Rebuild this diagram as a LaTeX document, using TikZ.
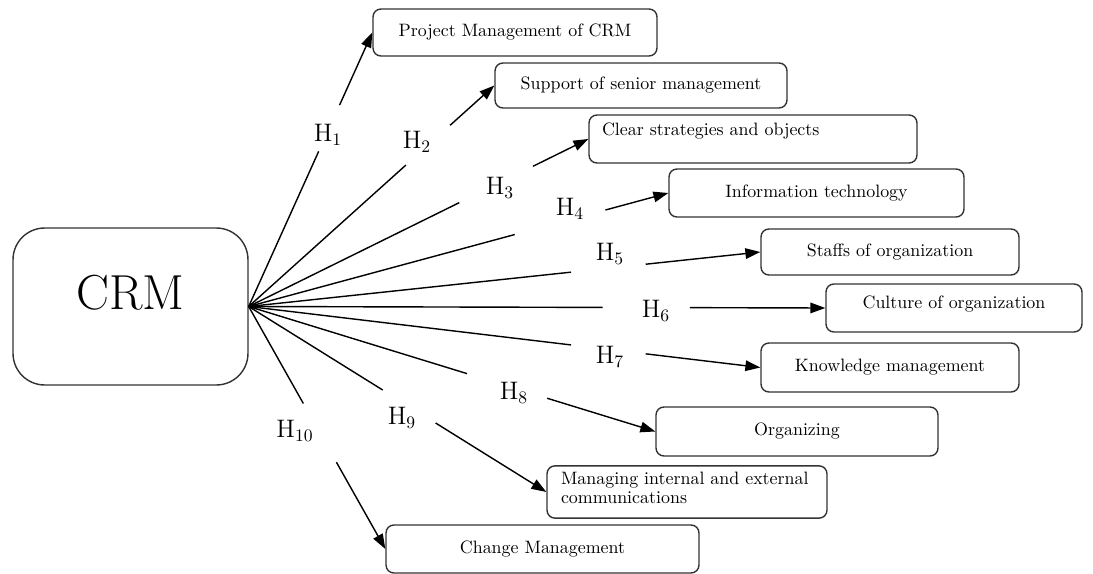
\documentclass[tikz,border=0pt]{standalone}
\usepackage{amsmath}
\usetikzlibrary{arrows.meta,calc}

\begin{document}
\begin{tikzpicture}[x=0.02cm,y=-0.02cm,
  box/.style={draw=black!80,line width=0.8pt,rounded corners=4.5pt,font=\fontsize{10.2}{11}\selectfont},
  hyp/.style={font=\fontsize{14}{16}\selectfont,inner sep=1pt},
  link/.style={line width=0.8pt,-{Triangle[length=8.5pt,width=6pt]}}]
\useasboundingbox (0,0) rectangle (1093,574);

\node[box,minimum width=4.70cm,minimum height=3.14cm,rounded corners=18pt,font=\fontsize{28}{30}\selectfont,text depth=16pt] (crm) at (130.5,306.5) {CRM};

\node[box,minimum width=5.68cm,minimum height=0.94cm] (b1) at (515,32.5) {Project Management of CRM};
\node[box,minimum width=5.84cm,minimum height=0.90cm] (b2) at (641,85.5) {Support of senior management};
\node[box,minimum height=0.96cm,align=left,text width=6.04cm,inner xsep=0.26cm,text depth=11pt] (b3) at (753,139) {Clear strategies and objects};
\node[box,minimum width=5.90cm,minimum height=0.96cm] (b4) at (816.5,193) {Information technology};
\node[box,minimum width=5.16cm,minimum height=0.92cm] (b5) at (890,252) {Staffs of organization};
\node[box,minimum width=5.12cm,minimum height=0.96cm,text depth=7pt] (b6) at (954,308) {Culture of organization};
\node[box,minimum width=5.16cm,minimum height=0.98cm] (b7) at (890,367.5) {Knowledge management};
\node[box,minimum width=5.64cm,minimum height=0.98cm] (b8) at (797,431.5) {Organizing};
\node[box,minimum height=1.00cm,align=left,text width=5.04cm,inner xsep=0.28cm,text depth=16pt] (b9) at (687,492) {Managing internal and external\\communications};
\node[box,minimum width=6.26cm,minimum height=0.96cm] (b10) at (542.5,549) {Change Management};

% hypotheses
\node[hyp] (h1) at (328,135) {$\mathrm{H}_{1}$};
\node[hyp] (h2) at (417,142) {$\mathrm{H}_{2}$};
\node[hyp] (h3) at (500,188) {$\mathrm{H}_{3}$};
\node[hyp] (h4) at (570,209) {$\mathrm{H}_{4}$};
\node[hyp] (h5) at (610,254) {$\mathrm{H}_{5}$};
\node[hyp] (h6) at (656,311) {$\mathrm{H}_{6}$};
\node[hyp] (h7) at (610,357) {$\mathrm{H}_{7}$};
\node[hyp] (h8) at (514,393) {$\mathrm{H}_{8}$};
\node[hyp] (h9) at (402,418) {$\mathrm{H}_{9}$};
\node[hyp] (h10) at (295,431) {$\mathrm{H}_{10}$};

\draw[line width=0.8pt] (crm.east) -- ($(crm.east)!0.566!(b1.west)$);
\draw[link] ($(crm.east)!0.735!(b1.west)$) -- (b1.west);
\draw[line width=0.8pt] (crm.east) -- ($(crm.east)!0.64!(b2.west)$);
\draw[link] ($(crm.east)!0.82!(b2.west)$) -- (b2.west);
\draw[line width=0.8pt] (crm.east) -- ($(crm.east)!0.62!(b3.west)$);
\draw[link] ($(crm.east)!0.837!(b3.west)$) -- (b3.west);
\draw[line width=0.8pt] (crm.east) -- ($(crm.east)!0.634!(b4.west)$);
\draw[link] ($(crm.east)!0.85!(b4.west)$) -- (b4.west);
\draw[line width=0.8pt] (crm.east) -- ($(crm.east)!0.63!(b5.west)$);
\draw[link] ($(crm.east)!0.776!(b5.west)$) -- (b5.west);
\draw[line width=0.8pt] (crm.east) -- ($(crm.east)!0.614!(b6.west)$);
\draw[link] ($(crm.east)!0.765!(b6.west)$) -- (b6.west);
\draw[line width=0.8pt] (crm.east) -- ($(crm.east)!0.63!(b7.west)$);
\draw[link] ($(crm.east)!0.776!(b7.west)$) -- (b7.west);
\draw[line width=0.8pt] (crm.east) -- ($(crm.east)!0.537!(b8.west)$);
\draw[link] ($(crm.east)!0.734!(b8.west)$) -- (b8.west);
\draw[line width=0.8pt] (crm.east) -- ($(crm.east)!0.45!(b9.west)$);
\draw[link] ($(crm.east)!0.628!(b9.west)$) -- (b9.west);
\draw[line width=0.8pt] (crm.east) -- ($(crm.east)!0.40!(b10.west)$);
\draw[link] ($(crm.east)!0.642!(b10.west)$) -- (b10.west);
\end{tikzpicture}
\end{document}
